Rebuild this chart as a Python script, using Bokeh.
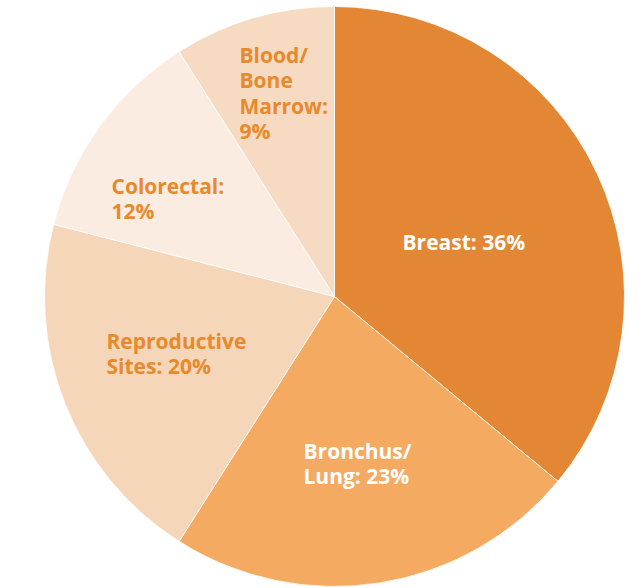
import math
from bokeh.plotting import figure
from bokeh.models import ColumnDataSource, Range1d
from bokeh.core.properties import value
from bokeh.embed import file_html
from bokeh.resources import INLINE

# ---- data ----
categories = ["Breast", "Bronchus/Lung", "Reproductive Sites", "Colorectal", "Blood/Bone Marrow"]
values = [36, 23, 20, 12, 9]
label_lines = [
    ["Breast: 36%"],
    ["Bronchus/", "Lung: 23%"],
    ["Reproductive", "Sites: 20%"],
    ["Colorectal:", "12%"],
    ["Blood/", "Bone", "Marrow:", "9%"],
]

# ---- style / layout ----
colors = ["#E38734", "#F4AA61", "#F6D6B8", "#FBECE1", "#F6DAC1"]
text_colors = ["#FFFFFF", "#FFFFFF", "#E8892B", "#E8892B", "#E8892B"]
# label anchor (first-line baseline, left edge) in canvas pixels
label_anchor_px = [(402, 241), (303, 450), (106, 340), (111, 185), (239, 54)]
line_height = 25.5

W, H = 643, 588
cx_px, cy_px = 334, 296  # pie centre in canvas pixels
R = 290

def to_data(px, py):
    return px - cx_px, cy_px - py

total = sum(values)
starts, ends = [], []
cum = 0.0
for v in values:
    starts.append(math.pi / 2 - 2 * math.pi * cum / total)
    cum += v
    ends.append(math.pi / 2 - 2 * math.pi * cum / total)

src = ColumnDataSource(dict(cat=categories, val=values, start=starts, end=ends, color=colors))

p = figure(width=W, height=H, output_backend="svg", toolbar_location=None,
           x_range=Range1d(-cx_px, W - cx_px), y_range=Range1d(cy_px - H, cy_px),
           min_border=0)
p.axis.visible = False
p.grid.visible = False
p.outline_line_color = None
p.background_fill_color = "white"
p.border_fill_color = "white"

p.wedge(x=0, y=0, radius=R, start_angle="start", end_angle="end", direction="clock",
        fill_color="color", line_color="white", line_width=0.8, source=src)

tx, ty, tt, tc = [], [], [], []
for lines, (ax, ay), col in zip(label_lines, label_anchor_px, text_colors):
    for i, line in enumerate(lines):
        dx, dy = to_data(ax, ay + i * line_height)
        tx.append(dx); ty.append(dy); tt.append(line); tc.append(col)

tsrc = ColumnDataSource(dict(x=tx, y=ty, t=tt, c=tc))
p.text(x="x", y="y", text="t", text_color="c", source=tsrc,
       text_font=value("Open Sans"), text_font_style="bold", text_font_size="21px",
       text_align="left", text_baseline="alphabetic")

open("out.html", "w").write(file_html(p, INLINE))
